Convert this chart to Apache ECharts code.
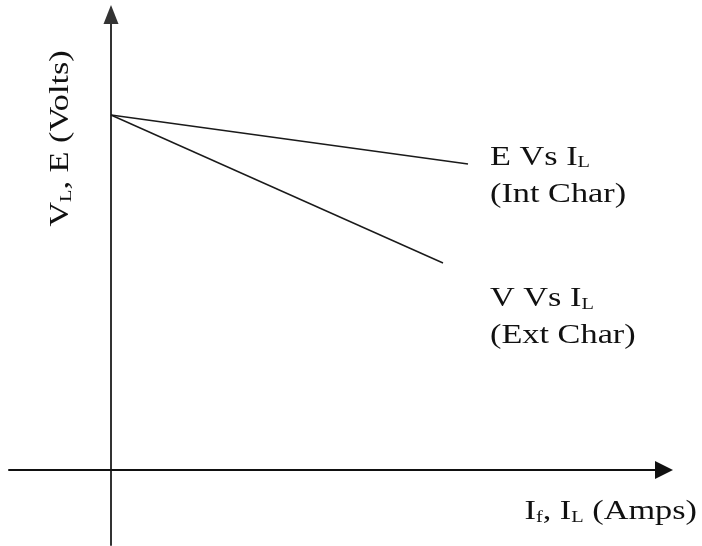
<!DOCTYPE html>
<html lang="en" style="height: 100%">
<head>
<meta charset="utf-8">
<title>Generator characteristics</title>
</head>
<body style="height: 100%; margin: 0; background: #fff">
<div id="container" style="height: 100%"></div>

<script type="text/javascript" src="https://cdn.jsdelivr.net/npm/echarts/dist/echarts.min.js"></script>

<script type="text/javascript">

var dom = document.getElementById('container');
var myChart = echarts.init(dom);

// Data (arbitrary units)
var seriesNames = ['E Vs IL (Int Char)', 'V Vs IL (Ext Char)'];
var internalChar = [[0, 3.55], [3.57, 3.06]];   // E vs IL
var externalChar = [[0, 3.55], [3.32, 2.07]];   // V vs IL
var curveLabels = [
    '{n|E Vs I}{s|L}\n{n|(Int Char)}',
    '{n|V Vs I}{s|L}\n{n|(Ext Char)}'
];
var yTitle = '{n|V}{s|L}{n|, E (Volts)}';
var xTitle = '{n|I}{s|f}{n|, I}{s|L}{n| (Amps)}';

var serif = "'Liberation Serif', 'Times New Roman', serif";
var ink = '#111';
var rich = {
    n: { fontSize: 27, fontFamily: serif, fill: ink, lineHeight: 37, verticalAlign: 'bottom' },
    s: { fontSize: 16, fontFamily: serif, fill: ink, lineHeight: 12, verticalAlign: 'bottom' }
};

var option = {
    animation: false,
    grid: { left: 9, right: 38, top: 14.5, bottom: 1 },
    xAxis: {
        type: 'value',
        min: -1.02,
        max: 5.53,
        axisLine: {
            onZero: true,
            symbol: ['none', 'triangle'],
            symbolSize: [18, 18],
            lineStyle: { color: '#111', width: 2 }
        },
        axisTick: { show: false },
        axisLabel: { show: false },
        splitLine: { show: false }
    },
    yAxis: {
        type: 'value',
        min: -0.75,
        max: 4.555,
        axisLine: {
            onZero: true,
            symbol: ['none', 'triangle'],
            symbolSize: [15, 19],
            lineStyle: { color: '#333', width: 2 }
        },
        axisTick: { show: false },
        axisLabel: { show: false },
        splitLine: { show: false }
    },
    series: [
        {
            name: seriesNames[0],
            type: 'line',
            symbol: 'none',
            data: internalChar,
            lineStyle: { color: '#1a1a1a', width: 1.4 }
        },
        {
            name: seriesNames[1],
            type: 'line',
            symbol: 'none',
            data: externalChar,
            lineStyle: { color: '#1a1a1a', width: 1.4 }
        }
    ]
};

myChart.setOption(option);

// place the curve labels next to the ends of the lines
var eEnd = myChart.convertToPixel({ gridIndex: 0 }, internalChar[internalChar.length - 1]);
var vEnd = myChart.convertToPixel({ gridIndex: 0 }, externalChar[externalChar.length - 1]);

function label(text, x, y, align, vAlign, rotation) {
    return {
        type: 'text',
        x: x,
        y: y,
        rotation: rotation || 0,
        scaleX: 1.27,
        style: {
            text: text,
            rich: rich,
            align: align,
            verticalAlign: vAlign
        }
    };
}

myChart.setOption({
    graphic: [
        label(curveLabels[0], eEnd[0] + 22, eEnd[1] - 30, 'left', 'top'),
        label(curveLabels[1], vEnd[0] + 47, vEnd[1] + 12.3, 'left', 'top'),
        label(yTitle, 56, 138.5, 'center', 'middle', Math.PI / 2),
        label(xTitle, 697, 488.3, 'right', 'top')
    ]
});

window.addEventListener('resize', myChart.resize);
</script>
</body>
</html>
